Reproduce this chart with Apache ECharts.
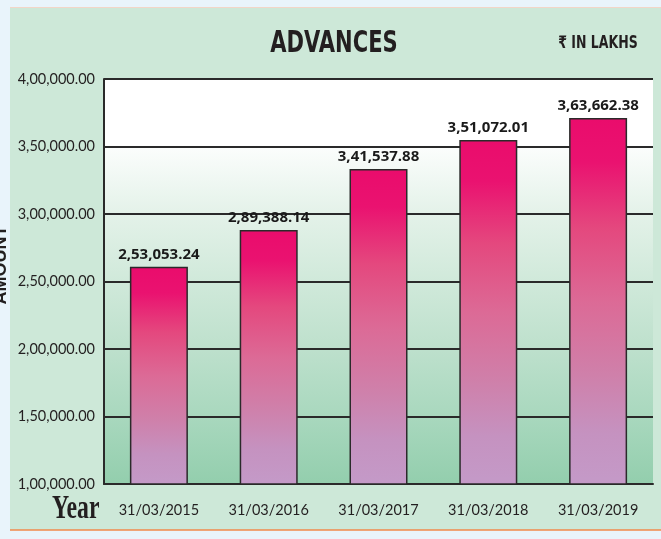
<!DOCTYPE html>
<html>
<head>
<meta charset="utf-8">
<script src="https://cdn.jsdelivr.net/npm/echarts@6/dist/echarts.min.js"></script>
<style>
html,body{margin:0;padding:0;background:#e9f4fb;}
#chart{width:661px;height:539px;}
</style>
</head>
<body>
<div id="chart"></div>
<script>
// ---- data ----
const categories = ['31/03/2015', '31/03/2016', '31/03/2017', '31/03/2018', '31/03/2019'];
const barValues = [260900, 288100, 333300, 354800, 371100];
// value labels printed above the bars
const valueLabels = ['2,53,053.24', '2,89,388.14', '3,41,537.88', '3,51,072.01', '3,63,662.38'];
const yTickLabels = ['1,00,000.00', '1,50,000.00', '2,00,000.00', '2,50,000.00', '3,00,000.00', '3,50,000.00', '4,00,000.00'];
const yMin = 100000, yMax = 400000, yStep = 50000;
const titleText = 'ADVANCES';
const unitText = '₹ IN LAKHS';
const yAxisTitle = 'AMOUNT';
const xAxisTitle = 'Year';

const chart = echarts.init(document.getElementById('chart'));
const cond = '"DejaVu Sans Condensed", "DejaVu Sans", sans-serif';
const tickFont = 'Lato, "Open Sans", sans-serif';

const option = {
  backgroundColor: 'transparent',
  animation: false,
  graphic: [
    { type: 'rect', z: -100, shape: { x: 10, y: 7, width: 651, height: 523 }, style: { fill: '#cde8d8' } },
    { type: 'line', z: -99, shape: { x1: 10, y1: 7.5, x2: 661, y2: 7.5 }, style: { stroke: '#f2d6c8', lineWidth: 1 } },
    { type: 'line', z: -99, shape: { x1: 10, y1: 530, x2: 661, y2: 530 }, style: { stroke: '#f08a4b', lineWidth: 1.5 } },
    { type: 'text', x: 334, y: 44, scaleX: 0.78, style: { text: titleText, font: 'bold 30px ' + cond, fill: '#231f20', textAlign: 'center', textVerticalAlign: 'middle' } },
    { type: 'text', x: 598, y: 44, scaleX: 0.82, style: { text: unitText, font: 'bold 17px ' + cond, fill: '#231f20', textAlign: 'center', textVerticalAlign: 'middle' } },
    { type: 'text', x: 1, y: 265, rotation: Math.PI / 2, style: { text: yAxisTitle, font: 'bold 18px "Liberation Sans", Arial, sans-serif', fill: '#231f20', textAlign: 'center', textVerticalAlign: 'middle' } },
    { type: 'text', x: 52, y: 509, scaleX: 0.72, style: { text: xAxisTitle, font: 'bold 33px "Liberation Serif", "DejaVu Serif", serif', fill: '#231f20', textAlign: 'left', textVerticalAlign: 'middle' } }
  ],
  grid: {
    left: 104, right: 8, top: 79, bottom: 55,
    show: true, borderWidth: 0,
    backgroundColor: new echarts.graphic.LinearGradient(0, 0, 0, 1, [
      { offset: 0, color: '#ffffff' },
      { offset: 0.163, color: '#ffffff' },
      { offset: 0.17, color: '#fbfdfc' },
      { offset: 0.33, color: '#e4f2e9' },
      { offset: 0.5, color: '#d0e9da' },
      { offset: 0.67, color: '#bde0cc' },
      { offset: 0.83, color: '#a9d8be' },
      { offset: 1, color: '#93cead' }
    ])
  },
  xAxis: {
    type: 'category',
    data: categories,
    axisLine: { show: true, lineStyle: { color: '#2a2a2a', width: 2 } },
    axisTick: { show: false },
    axisLabel: { interval: 0, color: '#231f20', fontFamily: tickFont, fontSize: 14.5, margin: 19 }
  },
  yAxis: {
    type: 'value',
    min: yMin, max: yMax, interval: yStep,
    axisLine: { show: true, lineStyle: { color: '#2a2a2a', width: 2 } },
    axisTick: { show: false },
    splitLine: { show: true, lineStyle: { color: '#2a2a2a', width: 2 } },
    axisLabel: {
      color: '#231f20', fontFamily: tickFont, fontSize: 14.5, margin: 9,
      formatter: function (v) { return yTickLabels[Math.round((v - yMin) / yStep)]; }
    }
  },
  series: [{
    type: 'bar',
    data: barValues,
    barWidth: 58,
    itemStyle: {
      borderColor: '#2a2a2a', borderWidth: 1.5,
      color: new echarts.graphic.LinearGradient(0, 0, 0, 1, [
        { offset: 0, color: '#ea0c6c' },
        { offset: 0.12, color: '#ea1270' },
        { offset: 0.3, color: '#e4487e' },
        { offset: 0.5, color: '#dc6a96' },
        { offset: 0.7, color: '#cf80aa' },
        { offset: 0.86, color: '#c592c0' },
        { offset: 1, color: '#c49ac8' }
      ])
    },
    label: {
      show: true, position: 'top', distance: 5,
      formatter: function (p) { return valueLabels[p.dataIndex]; },
      fontFamily: '"Open Sans", sans-serif', fontWeight: 'bold', fontSize: 15, color: '#1a1a1a'
    }
  }]
};
chart.setOption(option);
</script>
</body>
</html>
